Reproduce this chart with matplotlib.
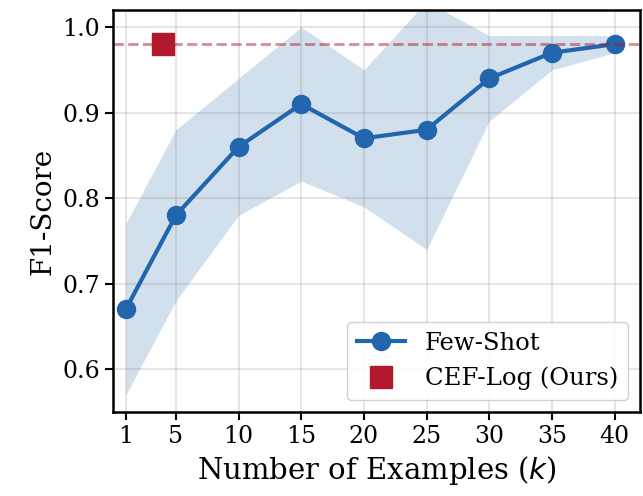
import numpy as np
import matplotlib
matplotlib.use("Agg")
import matplotlib.pyplot as plt

# data
k_values = [1, 5, 10, 15, 20, 25, 30, 35, 40]
f1_mean = [0.67, 0.78, 0.86, 0.91, 0.87, 0.88, 0.94, 0.97, 0.98]
f1_lower = [0.57, 0.68, 0.78, 0.82, 0.79, 0.74, 0.89, 0.95, 0.97]
f1_upper = [0.77, 0.88, 0.94, 1.00, 0.95, 1.03, 0.99, 0.99, 0.99]
cef_k = [4]
cef_f1 = [0.98]

plt.rcParams['font.family'] = 'DejaVu Serif'

blue = '#2166ac'
red = '#b2182b'

fig, ax = plt.subplots(figsize=(6.43, 4.96), dpi=100)
fig.subplots_adjust(left=0.176, right=0.995, top=0.98, bottom=0.169)

ax.fill_between(k_values, f1_lower, f1_upper, color=blue, alpha=0.2, linewidth=0)
ax.plot(k_values, f1_mean, '-o', color=blue, linewidth=3, markersize=13, label='Few-Shot')
ax.axhline(cef_f1[0], color=red, linestyle='--', linewidth=2, alpha=0.5)
ax.plot(cef_k, cef_f1, 's', color=red, markersize=16, linestyle='none', label='CEF-Log (Ours)')

ax.set_xlim(0, 42)
ax.set_ylim(0.55, 1.02)
ax.set_xticks(k_values)
ax.set_yticks([0.6, 0.7, 0.8, 0.9, 1.0])
ax.tick_params(labelsize=17, length=6, width=1.5)
ax.set_xlabel('Number of Examples ($k$)', fontsize=21)
ax.set_ylabel('F1-Score', fontsize=20)
ax.grid(True, color='gray', alpha=0.2, linewidth=1.5)
for s in ax.spines.values():
    s.set_linewidth(1.8)

ax.legend(loc='lower right', fontsize=17.5, framealpha=0.9)

plt.savefig('out.png', dpi=100)
